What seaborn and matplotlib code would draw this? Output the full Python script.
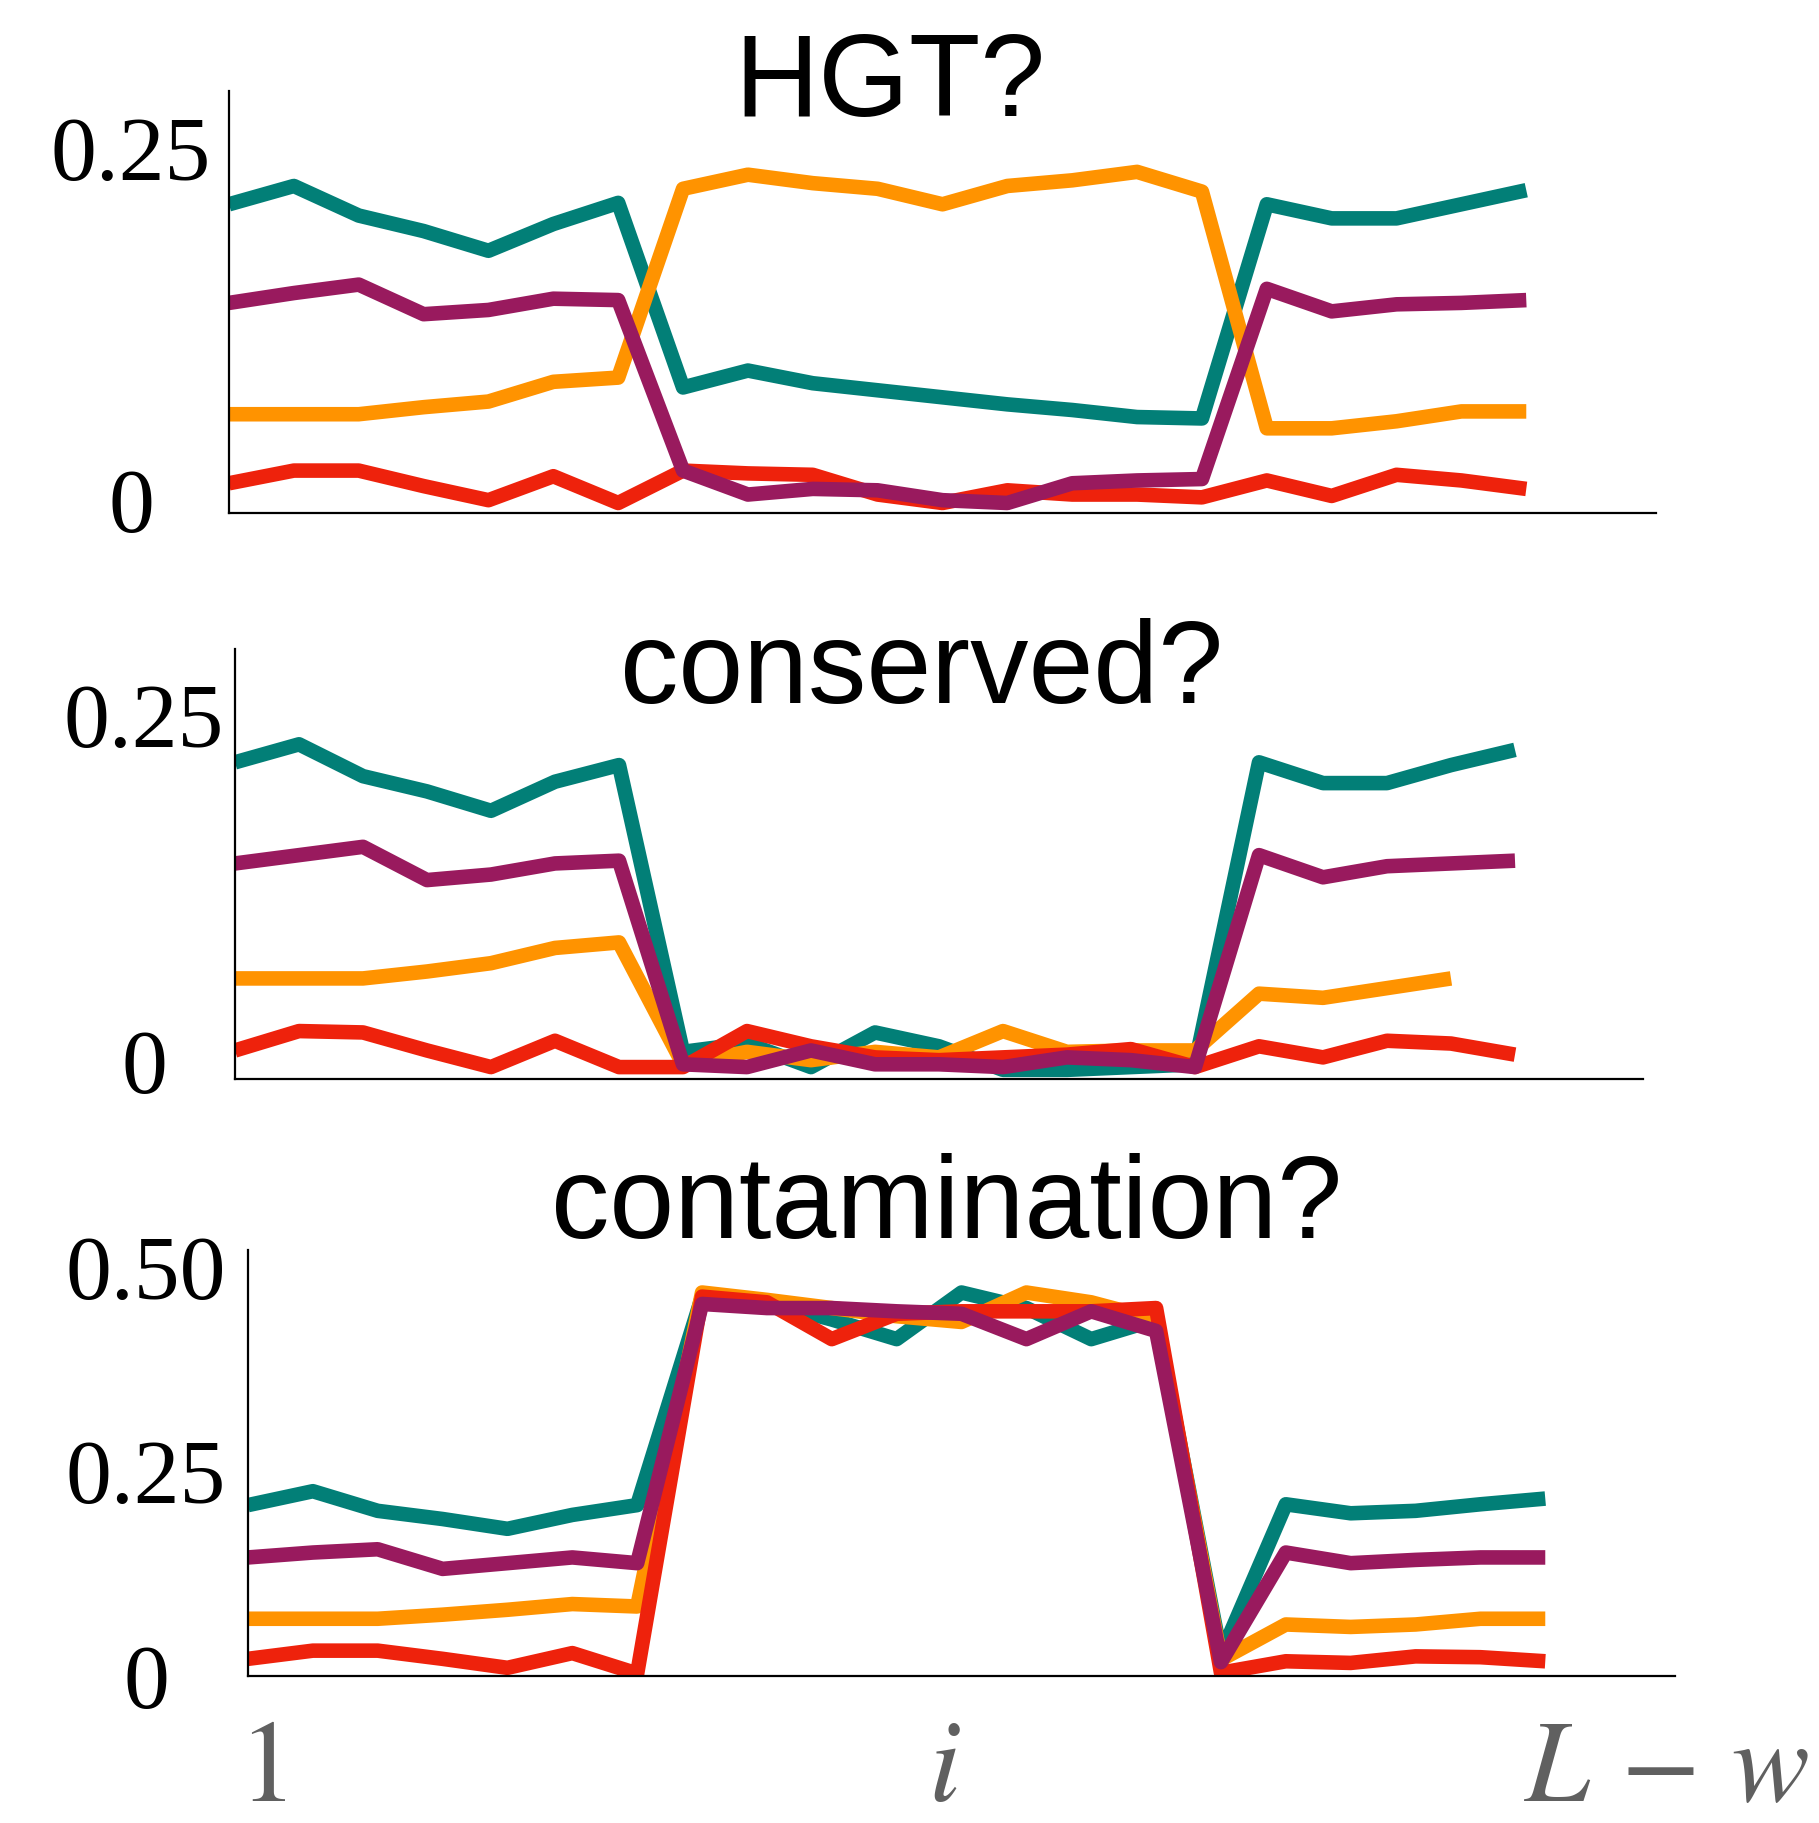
import matplotlib
matplotlib.use("Agg")
import matplotlib.pyplot as plt
import pandas as pd
import seaborn as sns

sns.set_style("white")
plt.rcParams["mathtext.fontset"] = "stix"
plt.rcParams["font.family"] = ["Liberation Serif", "DejaVu Serif"]
plt.rcParams["text.color"] = "black"

# window index (0 .. 20) shared by all three panels
pos = list(range(21))

titles = ["HGT?", "conserved?", "contamination?"]
series_names = ["teal", "orange", "red", "purple"]
palette = {"teal": "#027F77", "orange": "#FF9300", "red": "#EE220C", "purple": "#991A5E"}

# panel 1: HGT?
hgt_teal = [0.210, 0.223, 0.202, 0.191, 0.177, 0.196, 0.211, 0.080, 0.092, 0.083, 0.078,
            0.073, 0.068, 0.064, 0.059, 0.058, 0.210, 0.200, 0.200, 0.210, 0.220]
hgt_purple = [0.140, 0.147, 0.153, 0.132, 0.135, 0.143, 0.142, 0.021, 0.004, 0.008, 0.007,
              0.000, -0.002, 0.012, 0.014, 0.015, 0.150, 0.134, 0.139, 0.140, 0.142]
hgt_orange = [0.061, 0.061, 0.061, 0.066, 0.070, 0.084, 0.087, 0.221, 0.231, 0.225, 0.221,
              0.210, 0.223, 0.227, 0.233, 0.219, 0.051, 0.051, 0.056, 0.063, 0.063]
hgt_red = [0.012, 0.021, 0.021, 0.010, 0.000, 0.017, -0.002, 0.021, 0.019, 0.018, 0.004,
           -0.002, 0.007, 0.004, 0.004, 0.002, 0.014, 0.003, 0.018, 0.014, 0.008]

# panel 2: conserved?
cons_teal = [0.216, 0.229, 0.206, 0.195, 0.181, 0.202, 0.214, 0.007, 0.013, -0.004, 0.021,
             0.011, -0.006, -0.006, -0.004, -0.002, 0.216, 0.201, 0.201, 0.214, 0.225]
cons_purple = [0.143, 0.149, 0.155, 0.131, 0.135, 0.143, 0.145, -0.002, -0.004, 0.008, -0.002,
               -0.002, -0.004, 0.003, 0.001, -0.004, 0.149, 0.133, 0.141, 0.143, 0.145]
cons_orange = [0.060, 0.060, 0.060, 0.065, 0.071, 0.082, 0.086, -0.002, 0.007, 0.001, 0.007,
               0.003, 0.022, 0.007, 0.008, 0.008, 0.049, 0.046, 0.053, 0.060]
cons_red = [0.008, 0.022, 0.021, 0.008, -0.004, 0.015, -0.004, -0.004, 0.022, 0.011, 0.003,
            0.001, 0.003, 0.005, 0.009, -0.004, 0.011, 0.003, 0.015, 0.013, 0.005]

# panel 3: contamination?
cont_teal = [0.209, 0.226, 0.202, 0.192, 0.180, 0.197, 0.209, 0.464, 0.457, 0.436, 0.412,
             0.469, 0.450, 0.412, 0.436, 0.026, 0.210, 0.199, 0.202, 0.210, 0.217]
cont_purple = [0.145, 0.151, 0.155, 0.131, 0.138, 0.145, 0.138, 0.455, 0.450, 0.450, 0.446,
               0.443, 0.412, 0.446, 0.422, 0.017, 0.151, 0.138, 0.142, 0.145, 0.145]
cont_orange = [0.070, 0.070, 0.070, 0.075, 0.081, 0.088, 0.085, 0.469, 0.460, 0.450, 0.440,
               0.433, 0.469, 0.457, 0.436, 0.020, 0.063, 0.060, 0.063, 0.070, 0.070]
cont_red = [0.021, 0.031, 0.031, 0.021, 0.010, 0.028, 0.003, 0.464, 0.457, 0.412, 0.443,
            0.446, 0.446, 0.446, 0.450, 0.004, 0.018, 0.016, 0.024, 0.023, 0.018]

panels = [
    {"teal": hgt_teal, "orange": hgt_orange, "red": hgt_red, "purple": hgt_purple},
    {"teal": cons_teal, "orange": cons_orange, "red": cons_red, "purple": cons_purple},
    {"teal": cont_teal, "orange": cont_orange, "red": cont_red, "purple": cont_purple},
]
yticks = [[0, 0.25], [0, 0.25], [0, 0.25, 0.50]]
ytick_labels = [["0", "0.25"], ["0", "0.25"], ["0", "0.25", "0.50"]]
ylims = [(-0.0091, 0.2904), (-0.0126, 0.2978), (0.0, 0.521)]

xtick_pos = [0.22, 10.74, 21.87]
xtick_labels = [r"$1$", r"$i$", r"$L\,-\,w$"]

W, H = 1819, 1823
fig = plt.figure(figsize=(W / 100, H / 100), dpi=100)

# axes boxes in pixels: left, top, right, bottom
boxes = [(229, 91, 1656, 513), (235, 649, 1643, 1079), (248, 1250, 1675, 1676)]
label_pad = [98, 91, 102]
title_pos = [(890, 116), (922, 703), (947, 1238)]

for i, (l, t, r, b) in enumerate(boxes):
    ax = fig.add_axes([l / W, 1 - b / H, (r - l) / W, (b - t) / H])
    rows = []
    for name in series_names:
        vals = panels[i][name]
        for x, v in zip(pos, vals):
            rows.append({"x": x, "y": v, "series": name})
    df = pd.DataFrame(rows)
    sns.lineplot(data=df, x="x", y="y", hue="series", hue_order=series_names,
                 palette=palette, estimator=None, sort=False, legend=False,
                 lw=10.5, solid_capstyle="butt", solid_joinstyle="round", ax=ax)
    ax.set_xlim(0, 22)
    ax.set_ylim(*ylims[i])
    sns.despine(ax=ax)
    for s in ["left", "bottom"]:
        ax.spines[s].set_color("black")
        ax.spines[s].set_linewidth(1.6)
    ax.set_xlabel("")
    ax.set_ylabel("")
    ax.set_yticks(yticks[i])
    ax.set_yticklabels(ytick_labels[i], fontsize=66, ha="center", color="black")
    ax.tick_params(axis="y", length=0, pad=label_pad[i] * 0.72)
    if i < 2:
        ax.set_xticks([])
    else:
        ax.set_xticks(xtick_pos)
        ax.set_xticklabels(xtick_labels, fontsize=84, color="#606060")
        ax.tick_params(axis="x", length=0, pad=32)
    tx, ty = title_pos[i]
    fig.text(tx / W, 1 - ty / H, titles[i], ha="center", va="baseline", color="black",
             fontsize=84, family=["Liberation Sans", "DejaVu Sans"])

fig.savefig("out.png", dpi=100)
